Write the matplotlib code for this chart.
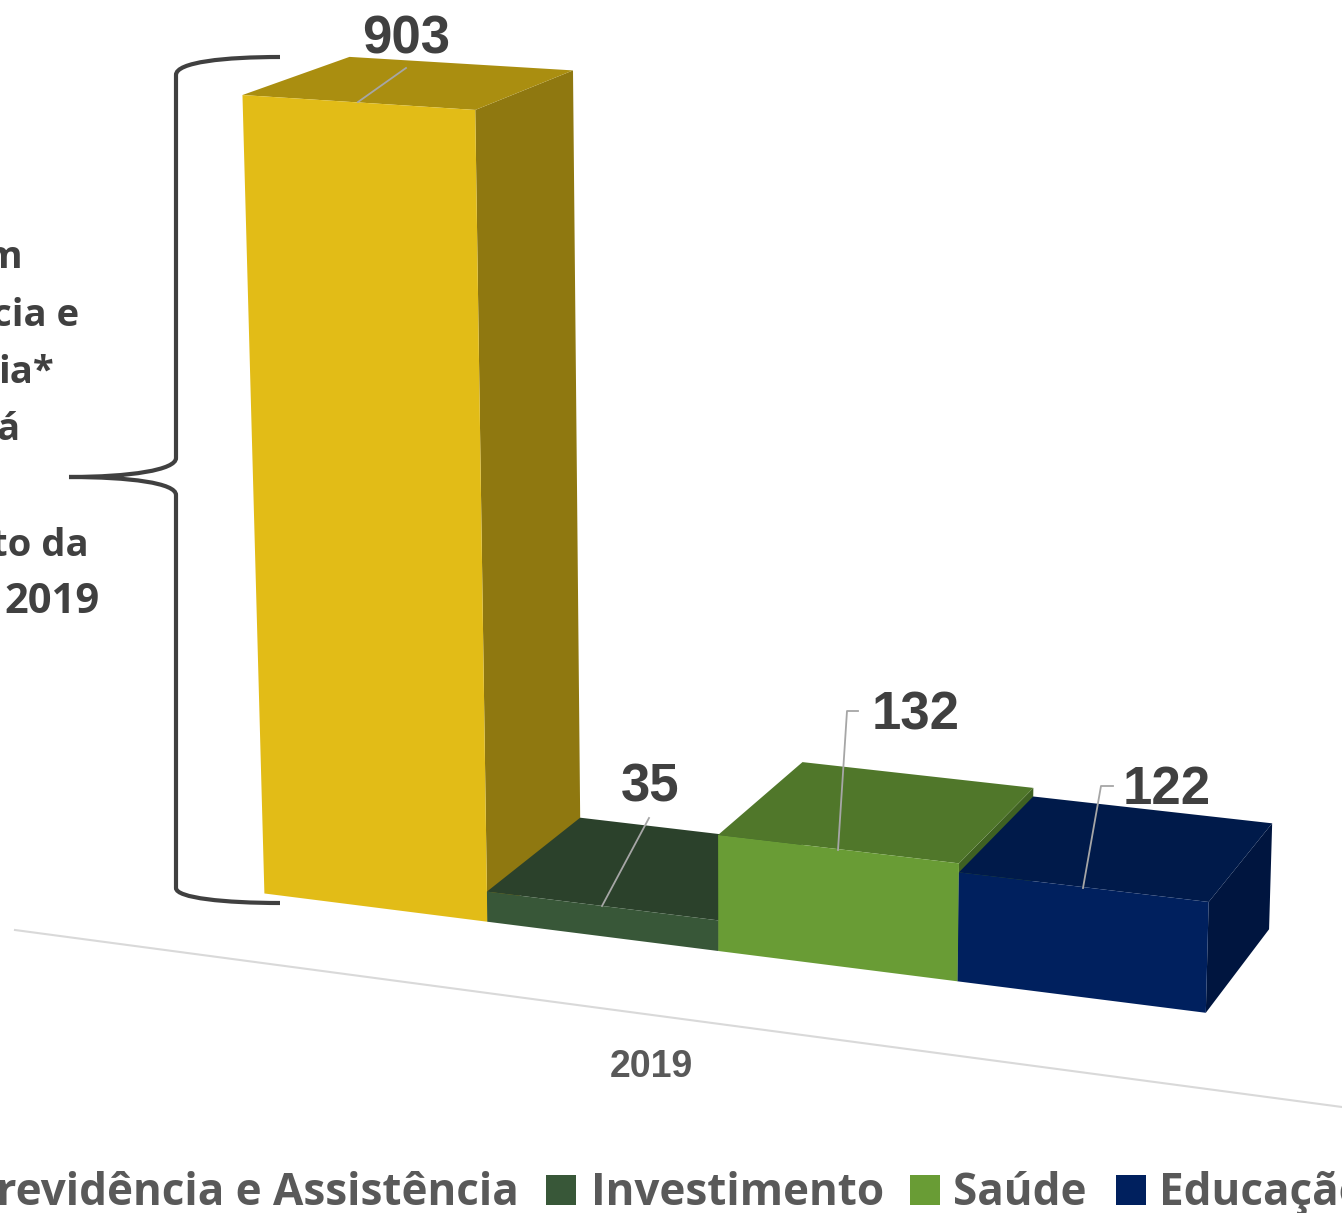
import matplotlib
matplotlib.use("Agg")
import matplotlib.pyplot as plt
import numpy as np
from matplotlib.path import Path
from matplotlib.patches import PathPatch, Polygon, Rectangle

categories = ["Previdência e Assistência", "Investimento", "Saúde", "Educação"]
values = [903, 35, 132, 122]
year_label = "2019"
side_note = ["m", "cia e", "ia*", "á", "to da", "2019"]

front_colors = ["#E2BC17", "#385738", "#699C35", "#00205E"]
top_colors = ["#AA8E10", "#2B412B", "#50772A", "#001A4A"]
side_colors = ["#8F7810", "#223322", "#3F6122", "#00153F"]

# perspective camera: (bar position, value, depth) -> pixel
CAMERA = np.array([
    [2.14562893e+02, -3.58829434e-02, 1.18950323e+02, 2.64399931e+02],
    [1.23678396e+01, -8.88752463e-01, -3.38128857e+01, 8.93476534e+02],
    [-1.72414828e-02, -4.77851858e-05, 4.73275960e-02, 1.00000000e+00],
])


def project(u, h, d):
    p = CAMERA @ np.array([u, h, d, 1.0])
    return p[0] / p[2], p[1] / p[2]


fig = plt.figure(figsize=(13.42, 12.13), dpi=100)
ax = fig.add_axes([0, 0, 1, 1])
ax.set_xlim(0, 1342)
ax.set_ylim(1213, 0)
ax.axis("off")

# floor line
ax.plot([15, 1342], [930, 1107], color="#D9D9D9", lw=1.5, zorder=1)

# bars, back to front from the left
for i, v in enumerate(values):
    side = [project(i + 1, 0, 0), project(i + 1, v, 0), project(i + 1, v, 1), project(i + 1, 0, 1)]
    top = [project(i, v, 0), project(i + 1, v, 0), project(i + 1, v, 1), project(i, v, 1)]
    front = [project(i, 0, 0), project(i + 1, 0, 0), project(i + 1, v, 0), project(i, v, 0)]
    ax.add_patch(Polygon(side, closed=True, fc=side_colors[i], ec="none", zorder=2))
    ax.add_patch(Polygon(top, closed=True, fc=top_colors[i], ec="none", zorder=2))
    ax.add_patch(Polygon(front, closed=True, fc=front_colors[i], ec="none", zorder=2))

# value labels with leader lines
leaders = [
    [(358, 102), (406, 68)],
    [(602, 906), (649, 818)],
    [(838, 850), (847, 711), (858, 711)],
    [(1083, 888), (1101, 786), (1113, 786)],
]
label_pos = [(406, 39), (650, 788), (916, 716), (1167, 790)]
for i, v in enumerate(values):
    xs, ys = zip(*leaders[i])
    ax.plot(xs, ys, color="#A6A6A6", lw=1.3, zorder=3)
    ax.text(label_pos[i][0], label_pos[i][1], str(v), family="Liberation Sans", weight="bold",
            fontsize=38, color="#404040", ha="center", va="center", zorder=4)

ax.text(651, 1067, year_label, family="Liberation Sans", weight="bold", fontsize=27,
        color="#595959", ha="center", va="center")

# legend, runs off both sides of the picture
legend_text_x = [519, 591, 953, 1159]
legend_box_x = [None, 546, 910, 1116]
for i, name in enumerate(categories):
    ax.text(legend_text_x[i], 1205, name, family="Open Sans", weight="bold", fontsize=31.7,
            color="#595959", ha="right" if i == 0 else "left", va="baseline")
    if legend_box_x[i] is not None:
        ax.add_patch(Rectangle((legend_box_x[i], 1175), 30, 30, fc=front_colors[i], ec="none"))

# brace
verts = [(280, 57), (225, 57), (176, 62), (176, 75), (176, 458), (176, 470), (130, 477), (69, 477),
         (130, 477), (176, 483), (176, 495), (176, 888), (176, 898), (225, 903), (280, 903)]
codes = [Path.MOVETO, Path.CURVE4, Path.CURVE4, Path.CURVE4, Path.LINETO, Path.CURVE4, Path.CURVE4, Path.CURVE4,
         Path.CURVE4, Path.CURVE4, Path.CURVE4, Path.LINETO, Path.CURVE4, Path.CURVE4, Path.CURVE4]
ax.add_patch(PathPatch(Path(verts, codes), fc="none", ec="#404040", lw=3.0))

# side note, cut by the left edge
note_x = [23, 79, 54, 19, 89, 100]
note_y = [268, 326, 383, 440, 556, 613]
note_size = [27.5, 27.5, 27.5, 27.5, 27.5, 30]
for t, x, y, s in zip(side_note, note_x, note_y, note_size):
    ax.text(x, y, t, family="Open Sans", weight="bold", fontsize=s, color="#404040", ha="right", va="baseline")

fig.savefig("out.png", dpi=100)
